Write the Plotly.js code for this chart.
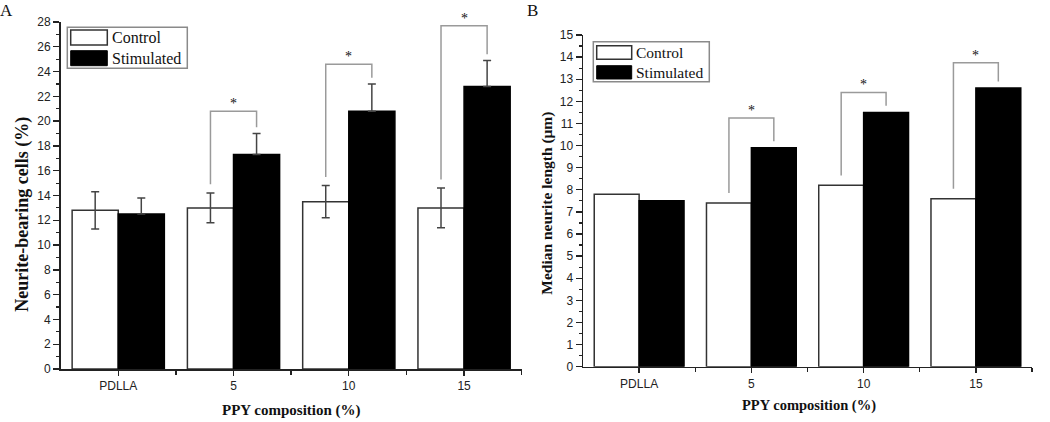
<!DOCTYPE html>
<html>
<head>
<meta charset="utf-8">
<script src="https://cdn.plot.ly/plotly-3.0.1.min.js"></script>
<style>html,body{margin:0;padding:0;background:#fff;}#chart{width:1050px;height:422px;}</style>
</head>
<body>
<div id="chart"></div>
<script>
// ---- data ----
const categories = ['PDLLA', '5', '10', '15'];
const seriesNames = ['Control', 'Stimulated'];
// Panel A: Neurite-bearing cells (%)
const cellsControl = [12.8, 13.0, 13.5, 13.0];
const cellsControlErr = [1.5, 1.2, 1.3, 1.6];
const cellsStim = [12.5, 17.3, 20.8, 22.8];
const cellsStimErr = [1.3, 1.7, 2.2, 2.1];
const cellsSigTop = [null, 20.8, 24.6, 27.7];
// Panel B: Median neurite length (um)
const lengthControl = [7.8, 7.4, 8.2, 7.6];
const lengthStim = [7.5, 9.9, 11.5, 12.6];
const lengthSigTop = [null, 11.25, 12.4, 13.75];

const W = 1050, H = 422;
const px = v => v / W;
const py = v => 1 - v / H;
const SERIF = 'Liberation Serif, Times New Roman, serif';
const SANS = 'Liberation Sans, Arial, sans-serif';
const xIdx = categories.map((c, i) => i);

function barTrace(y, err, name, fill, line, xa, ya, upperOnly) {
  const t = {
    type: 'bar', x: xIdx, y: y, name: name, xaxis: xa, yaxis: ya,
    marker: {color: fill, line: {color: line, width: 1.5}},
    showlegend: false, hoverinfo: 'y'
  };
  if (err) {
    t.error_y = {type: 'data', array: err, visible: true, color: '#444', thickness: 1.5, width: 4};
    // lower half of the whisker is hidden inside the black bar in the original
    if (upperOnly) { t.error_y.symmetric = false; t.error_y.arrayminus = err.map(() => 0); }
  }
  return t;
}

const data = [
  barTrace(cellsControl, cellsControlErr, seriesNames[0], '#ffffff', '#333', 'x', 'y', false),
  barTrace(cellsStim, cellsStimErr, seriesNames[1], '#000000', '#000', 'x', 'y', true),
  barTrace(lengthControl, null, seriesNames[0], '#ffffff', '#333', 'x2', 'y2', false),
  barTrace(lengthStim, null, seriesNames[1], '#000000', '#000', 'x2', 'y2', false)
];

const shapes = [];
const annotations = [];

function brackets(top, ctrl, ctrlErr, stim, stimErr, gapC, gapS, xr, yr, starOff) {
  top.forEach((t, i) => {
    if (t === null) return;
    const xl = i - 0.2, xr2 = i + 0.2;
    const bl = ctrl[i] + (ctrlErr ? ctrlErr[i] : 0) + gapC;
    const br = stim[i] + (stimErr ? stimErr[i] : 0) + gapS;
    shapes.push({type: 'path', xref: xr, yref: yr,
      path: `M ${xl},${bl} L ${xl},${t} L ${xr2},${t} L ${xr2},${br}`,
      line: {color: '#9a9a9a', width: 1.5}});
    annotations.push({xref: xr, yref: yr, x: i, y: t, text: '*', showarrow: false,
      yanchor: 'bottom', yshift: starOff, font: {family: SERIF, size: 14, color: '#111'}});
  });
}
brackets(cellsSigTop, cellsControl, cellsControlErr, cellsStim, cellsStimErr, 0.7, 0.5, 'x', 'y', -2);
brackets(lengthSigTop, lengthControl, null, lengthStim, null, 0.45, 0.3, 'x2', 'y2', -2);

function legendBox(box, sw1, sw2, textX, fontSize) {
  shapes.push({type: 'rect', xref: 'paper', yref: 'paper', x0: px(box[0]), x1: px(box[2]), y0: py(box[3]), y1: py(box[1]),
    line: {color: '#8a8a8a', width: 1.5}, fillcolor: 'rgba(0,0,0,0)'});
  shapes.push({type: 'rect', xref: 'paper', yref: 'paper', x0: px(sw1[0]), x1: px(sw1[2]), y0: py(sw1[3]), y1: py(sw1[1]),
    line: {color: '#333', width: 1.5}, fillcolor: '#ffffff'});
  shapes.push({type: 'rect', xref: 'paper', yref: 'paper', x0: px(sw2[0]), x1: px(sw2[2]), y0: py(sw2[3]), y1: py(sw2[1]),
    line: {color: '#000', width: 1}, fillcolor: '#000000'});
  [sw1, sw2].forEach((s, k) => {
    annotations.push({xref: 'paper', yref: 'paper', x: px(textX), y: py((s[1] + s[3]) / 2),
      xanchor: 'left', yanchor: 'middle', text: seriesNames[k], showarrow: false,
      font: {family: SERIF, size: fontSize, color: '#111'}});
  });
}
legendBox([67.3, 27.3, 187.3, 68.3], [70.7, 30, 107.3, 45], [70.7, 50.7, 107.3, 65.7], 109.5, 16);
legendBox([593.3, 41.7, 709.3, 81.7], [596.7, 45.7, 631.7, 59.3], [596.7, 65.7, 631.7, 79], 634, 15.5);

// titles and panel labels
function txt(x, y, text, size, bold, angle) {
  annotations.push({xref: 'paper', yref: 'paper', x: px(x), y: py(y), xanchor: 'center', yanchor: 'middle',
    text: bold ? '<b>' + text + '</b>' : text, showarrow: false, textangle: angle || 0,
    font: {family: SERIF, size: size, color: '#111'}});
}
txt(6, 11, 'A', 17, false);
txt(532, 11, 'B', 17, false);
txt(21.7, 214, 'Neurite-bearing cells (%)', 18, true, -90);
txt(546.7, 203, 'Median neurite length (μm)', 15.5, true, -90);
txt(291, 410, 'PPY composition (%)', 15, true);
txt(808.5, 405, 'PPY composition (%)', 14.5, true);

function xAxis(domain, anchor) {
  return {domain: domain, anchor: anchor, range: [-0.5, 3.5], tickmode: 'array', tickvals: xIdx, ticktext: categories,
    ticks: 'outside', ticklen: 5, tickwidth: 1.3, tickcolor: '#222', showline: true, linecolor: '#222', linewidth: 1.5,
    showgrid: false, zeroline: false, fixedrange: true, automargin: false,
    tickfont: {family: SANS, size: 12, color: '#222'},
    minor: {tickmode: 'array', tickvals: [0.5, 1.5, 2.5, 3.5], ticks: 'outside', ticklen: 4, tickwidth: 1.3, tickcolor: '#222', showgrid: false}};
}
function yAxis(domain, anchor, range, dtick, minorDtick) {
  return {domain: domain, anchor: anchor, range: range, tickmode: 'linear', tick0: 0, dtick: dtick,
    ticks: 'outside', ticklen: 6, tickwidth: 1.3, tickcolor: '#222', showline: true, linecolor: '#222', linewidth: 1.5,
    showgrid: false, zeroline: false, fixedrange: true, automargin: false,
    tickfont: {family: SANS, size: 12, color: '#222'},
    minor: {tick0: 0, dtick: minorDtick, ticks: 'outside', ticklen: 3, tickwidth: 1.2, tickcolor: '#222', showgrid: false}};
}

const layout = {
  width: W, height: H, margin: {l: 0, r: 0, t: 0, b: 0},
  paper_bgcolor: '#ffffff', plot_bgcolor: 'rgba(0,0,0,0)',
  barmode: 'group', bargap: 0.2, bargroupgap: 0, showlegend: false,
  xaxis: xAxis([60.6 / W, 521.7 / W], 'y'),
  yaxis: yAxis([1 - 369 / H, 1 - 22 / H], 'x', [0, 28], 2, 1),
  xaxis2: xAxis([583 / W, 1032 / W], 'y2'),
  yaxis2: yAxis([1 - 366.7 / H, 1 - 35 / H], 'x2', [0, 15], 1, 0.5),
  shapes: shapes, annotations: annotations
};

Plotly.newPlot('chart', data, layout, {displayModeBar: false, staticPlot: true});
</script>
</body>
</html>
